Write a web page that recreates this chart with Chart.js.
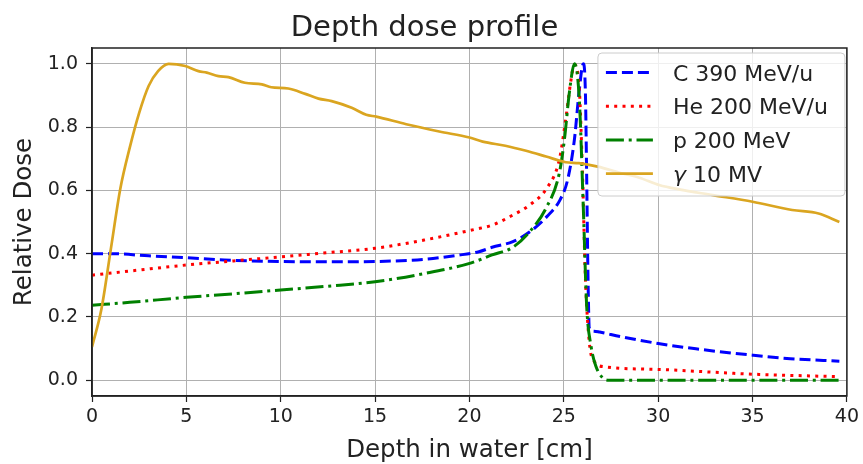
<!DOCTYPE html>
<html><head><meta charset="utf-8">
<script src="https://cdn.jsdelivr.net/npm/chart.js@4/dist/chart.umd.min.js"></script>
<style>html,body{margin:0;padding:0;background:#fff}</style>
</head><body>
<canvas id="c" width="863" height="464"></canvas>
<script>
const seriesLabels = ['C 390 MeV/u', 'He 200 MeV/u', 'p 200 MeV', 'γ 10 MV'];

const cDepth = [0, 1, 3, 5, 7, 10, 13, 15, 17.6, 19.4, 20.5, 21.2, 22.3, 23.2, 24.1, 24.8, 25.2, 25.56, 25.82, 26.03, 26.14, 26.21, 26.28, 26.35, 26.6, 26.9, 28, 30, 32, 35, 37, 39.6];
const cDose  = [0.40, 0.40, 0.393, 0.387, 0.38, 0.375, 0.374, 0.375, 0.382, 0.395, 0.406, 0.42, 0.438, 0.469, 0.517, 0.57, 0.633, 0.76, 0.918, 1.0, 0.918, 0.65, 0.33, 0.165, 0.155, 0.152, 0.138, 0.116, 0.099, 0.079, 0.068, 0.06];

const heDepth = [0, 2, 5, 7.5, 10, 12.5, 15, 17.6, 20.3, 21.2, 22.3, 23.2, 24.1, 24.76, 25.12, 25.38, 25.56, 25.82, 25.99, 26.14, 26.35, 26.6, 27.2, 30, 35, 39.6];
const heDose  = [0.332, 0.345, 0.364, 0.377, 0.39, 0.403, 0.417, 0.443, 0.477, 0.49, 0.522, 0.554, 0.607, 0.696, 0.833, 0.949, 0.997, 0.92, 0.65, 0.33, 0.12, 0.06, 0.042, 0.034, 0.019, 0.011];

const pDepth = [0, 2, 5, 7.5, 10, 12.5, 15, 17.6, 20.1, 21.2, 22.3, 23.2, 24.06, 24.76, 25.03, 25.29, 25.56, 25.82, 26.03, 26.21, 26.44, 26.7, 27.05, 27.4, 30, 35, 39.6];
const pDose  = [0.237, 0.246, 0.262, 0.273, 0.285, 0.297, 0.311, 0.337, 0.371, 0.396, 0.42, 0.47, 0.544, 0.654, 0.76, 0.907, 1.0, 0.888, 0.55, 0.235, 0.108, 0.044, 0.008, 0, 0, 0, 0];

const gDepth = [0, 0.5, 1, 1.5, 2, 2.5, 3, 3.5, 4.06, 4.94, 5.64, 6.08, 6.7, 7.23, 8.1, 9.0, 9.5, 10.4, 11.3, 12.0, 12.7, 13.76, 14.53, 15.06, 16.65, 18.4, 20.0, 20.7, 21.9, 23.0, 24.06, 25.1, 25.8, 26.8, 28, 29, 30.05, 31.1, 32.9, 35.0, 37.1, 38.5, 39.6];
const gDose  = [0.105, 0.225, 0.415, 0.605, 0.735, 0.845, 0.93, 0.977, 1.0, 0.993, 0.977, 0.972, 0.961, 0.958, 0.94, 0.935, 0.926, 0.922, 0.905, 0.89, 0.882, 0.861, 0.839, 0.833, 0.809, 0.786, 0.767, 0.754, 0.741, 0.725, 0.707, 0.689, 0.686, 0.675, 0.655, 0.64, 0.617, 0.603, 0.585, 0.564, 0.538, 0.527, 0.50];

const xTicks = [0, 5, 10, 15, 20, 25, 30, 35, 40];
const yTicks = [0.0, 0.2, 0.4, 0.6, 0.8, 1.0];

const FONT = "'DejaVu Sans', sans-serif";
const TXT = '#222222';

function pts(xs, ys) { return xs.map((x, i) => ({ x: x, y: ys[i] })); }

const framePlugin = {
  id: 'frame',
  afterDatasetsDraw(chart) {
    const { ctx, chartArea: a } = chart;
    ctx.save();
    ctx.strokeStyle = '#222';
    ctx.lineWidth = 1.5;
    ctx.strokeRect(a.left, a.top, a.right - a.left, a.bottom - a.top);
    ctx.restore();
  }
};

const boxLegend = {
  id: 'boxLegend',
  afterDraw(chart) {
    const { ctx, chartArea: a } = chart;
    const bw = 247, bh = 143;
    const bx = a.right - 2 - bw, by = a.top + 5;
    ctx.save();
    ctx.beginPath();
    ctx.roundRect(bx, by, bw, bh, 4);
    ctx.fillStyle = 'rgba(255,255,255,0.8)';
    ctx.fill();
    ctx.strokeStyle = '#cccccc';
    ctx.lineWidth = 1;
    ctx.stroke();
    chart.data.datasets.forEach((ds, i) => {
      const y = by + 19.5 + i * 33.7;
      ctx.beginPath();
      ctx.setLineDash(ds.borderDash || []);
      ctx.lineWidth = ds.borderWidth;
      ctx.strokeStyle = ds.borderColor;
      ctx.lineCap = 'butt';
      ctx.moveTo(bx + 8, y);
      ctx.lineTo(bx + 55, y);
      ctx.stroke();
      ctx.setLineDash([]);
      ctx.fillStyle = TXT;
      ctx.textBaseline = 'alphabetic';
      ctx.textAlign = 'left';
      let tx = bx + 75;
      const base = y + 8;
      const label = ds.label;
      if (label.startsWith('γ')) {
        ctx.font = 'italic 22px ' + FONT;
        ctx.fillText('γ', tx, base);
        tx += ctx.measureText('γ').width;
        ctx.font = '22px ' + FONT;
        ctx.fillText(label.slice(1), tx, base);
      } else {
        ctx.font = '22px ' + FONT;
        ctx.fillText(label, tx, base);
      }
    });
    ctx.restore();
  }
};

const lineBase = { pointRadius: 0, fill: false, cubicInterpolationMode: 'monotone', borderCapStyle: 'butt' };

new Chart(document.getElementById('c'), {
  type: 'line',
  data: {
    datasets: [
      Object.assign({}, lineBase, { label: seriesLabels[0], data: pts(cDepth, cDose), borderColor: '#0000ff', borderWidth: 3, borderDash: [11, 5], order: 4 }),
      Object.assign({}, lineBase, { label: seriesLabels[1], data: pts(heDepth, heDose), borderColor: '#ff0000', borderWidth: 3, borderDash: [3, 5.3], order: 3 }),
      Object.assign({}, lineBase, { label: seriesLabels[2], data: pts(pDepth, pDose), borderColor: '#008000', borderWidth: 3, borderDash: [18, 4.8, 3, 4.8], order: 2 }),
      Object.assign({}, lineBase, { label: seriesLabels[3], data: pts(gDepth, gDose), borderColor: '#daa520', borderWidth: 2.7, order: 1 })
    ]
  },
  options: {
    responsive: false,
    animation: false,
    layout: { padding: { left: 0, right: 14, top: 0, bottom: 0 } },
    plugins: {
      legend: { display: false },
      tooltip: { enabled: false },
      title: {
        display: true,
        text: 'Depth dose profile',
        color: TXT,
        font: { family: FONT, size: 29, weight: 'normal', lineHeight: 1.0 },
        padding: { top: 13.5, bottom: 5.5 }
      }
    },
    scales: {
      x: {
        type: 'linear',
        min: 0, max: 40,
        afterBuildTicks: s => { s.ticks = xTicks.map(v => ({ value: v })); },
        afterFit: s => { s.height = 68; },
        ticks: { color: TXT, font: { family: FONT, size: 19 }, padding: 4, maxRotation: 0, autoSkip: false },
        grid: { color: '#b0b0b0', lineWidth: 1, tickColor: '#222', tickLength: 6, tickWidth: 1.2 },
        border: { display: true, color: '#222', width: 1.5 },
        title: { display: true, text: 'Depth in water [cm]', color: TXT, font: { family: FONT, size: 24.5, lineHeight: 1.0 }, padding: { top: 0, bottom: 1 } }
      },
      y: {
        type: 'linear',
        min: -0.05, max: 1.05,
        afterBuildTicks: s => { s.ticks = yTicks.map(v => ({ value: v })); },
        afterFit: s => { s.width = 92; },
        ticks: { color: TXT, font: { family: FONT, size: 19 }, padding: 8, callback: v => v.toFixed(1), autoSkip: false },
        grid: { color: '#b0b0b0', lineWidth: 1, tickColor: '#222', tickLength: 6, tickWidth: 1.2 },
        border: { display: true, color: '#222', width: 1.5 },
        title: { display: true, text: 'Relative Dose', color: TXT, font: { family: FONT, size: 24.5, lineHeight: 1.0 }, padding: { top: 12, bottom: 0 } }
      }
    }
  },
  plugins: [framePlugin, boxLegend]
});
</script>
</body></html>
